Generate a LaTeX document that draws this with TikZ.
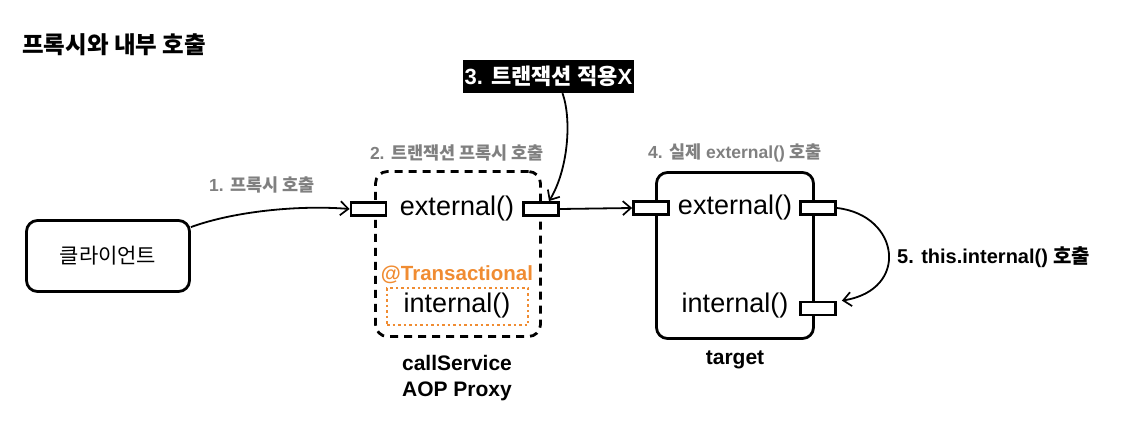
\documentclass[tikz,border=0pt]{standalone}
\usepackage{fontspec}
\setmainfont{Liberation Sans}
\newfontfamily\kr{Noto Sans CJK KR}
\usetikzlibrary{arrows.meta}
\definecolor{lblgray}{RGB}{128,128,128}
\definecolor{txorange}{RGB}{240,140,50}
\newcommand\fsz[2]{\fontsize{#1}{#2}\selectfont}
\begin{document}
\begin{tikzpicture}[x=1pt,y=-1pt,
  port/.style={draw, line width=2.8pt, fill=white, minimum width=35pt, minimum height=13pt, inner sep=0pt},
  solidbox/.style={draw, line width=2.8pt, rounded corners=11pt, inner sep=0pt},
  dashbox/.style={draw, line width=2.8pt, dash pattern=on 8pt off 6pt, rounded corners=12pt, inner sep=0pt},
  dotbox/.style={draw=txorange, line width=2.5pt, dash pattern=on 2.5pt off 3pt, inner sep=0pt},
  arr/.style={-{Straight Barb[length=8pt,width=14pt,line width=1.7pt]}, line width=1.8pt},
  mtext/.style={inner sep=0pt, font=\fsz{27}{31}},
  btext/.style={inner sep=0pt, font=\bfseries\fsz{21}{26}},
  glabel/.style={inner sep=0pt, text=lblgray, font=\bfseries\fsz{17.5}{21}},
]
\useasboundingbox (0,0) rectangle (1148,422);

\node[anchor=west, inner sep=0pt, font=\kr\bfseries\fsz{23.5}{28}] (title) at (22,45) {프록시와 내부 호출};

% client
\node[solidbox, minimum width=163pt, minimum height=71pt, font=\kr\fsz{21}{25}] (client) at (108,256) {클라이언트};

% proxy
\node[dashbox, minimum width=165pt, minimum height=165pt] (proxy) at (458,254) {};
\node[dotbox, minimum width=141pt, minimum height=37pt] (ibox) at (457.5,306.5) {};
\node[mtext] (pext) at (457,209) {external()};
\node[mtext] (pint) at (457,306) {internal()};
\node[inner sep=0pt, text=txorange, font=\bfseries\fsz{20.5}{24}] (trans) at (457,275) {@Transactional};
\node[btext, align=center] (pname) at (457,378) {callService\\AOP Proxy};
\node[glabel] (l2) at (457,153) {2. {\kr 트랜잭션 프록시 호출}};

% target
\node[solidbox, minimum width=157pt, minimum height=166pt] (target) at (735,255.5) {};
\node[mtext] (text) at (735,208) {external()};
\node[mtext] (tint) at (735,306) {internal()};
\node[btext] (tname) at (735,360) {target};
\node[glabel] (l4) at (735,153) {4. {\kr 실제} external() {\kr 호출}};

% ports
\node[port] (prL) at (368.5,209) {};
\node[port] (prR) at (541,209) {};
\node[port] (tgL) at (651,208) {};
\node[port] (tgR) at (818,208) {};
\node[port] (tgI) at (818,308.5) {};

% labels
\node[glabel] (l1) at (262,185) {1. {\kr 프록시 호출}};
\node[fill=black, text=white, inner xsep=2pt, inner ysep=0pt, minimum height=33pt, font=\bfseries\fsz{22}{26}] (l3) at (548.5,76.5) {3. {\kr 트랜잭션 적용}X};
\node[anchor=west, inner sep=0pt, font=\bfseries\fsz{20}{24}] (l5) at (897,257) {5. this.internal() {\kr 호출}};

% arrows
\draw[arr] ([yshift=-8pt]client.north east) .. controls (235,211) and (300,205) .. (prL.west);
\draw[arr] (prR.east) -- (tgL.west);
\draw[arr] (tgR.east) .. controls (900,215) and (910,290) .. ([xshift=5pt]tgI.north east);
\draw[arr] ([xshift=14pt]l3.south) .. controls (572,120) and (568,170) .. ([xshift=8pt]prR.north);
\end{tikzpicture}
\end{document}
